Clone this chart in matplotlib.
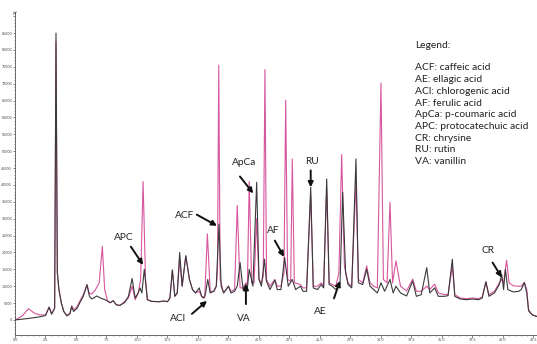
import matplotlib
matplotlib.use("Agg")
import matplotlib.pyplot as plt
from matplotlib.ticker import MultipleLocator, FuncFormatter

# ---------------- data (retention time in min, signal in µV) ----------------
black_t = [0.0, 1.0, 2.0, 2.5, 2.8, 3.0, 3.25, 3.36, 3.47, 3.6, 3.8, 4.0, 4.25, 4.5, 4.65, 4.8,
           5.1, 5.3, 5.6, 5.9, 6.1, 6.3, 6.7, 7.0, 7.5, 7.8, 8.05, 8.3, 8.6, 9.0, 9.3, 9.6,
           9.85, 10.1, 10.25, 10.4, 10.6, 10.85, 11.2, 11.8, 12.2, 12.5, 12.7, 12.9, 13.1,
           13.3, 13.5, 13.7, 14.0, 14.3, 14.55, 14.8, 15.1, 15.3, 15.45, 15.6, 15.8, 16.0,
           16.3, 16.5, 16.72, 16.9, 17.1, 17.5, 17.7, 18.0, 18.22, 18.45, 18.7, 18.93, 19.05,
           19.2, 19.5, 19.81, 20.0, 20.2, 20.45, 20.6, 20.9, 21.3, 21.5, 21.8, 22.1, 22.4,
           22.73, 23.0, 23.4, 23.6, 23.9, 24.24, 24.45, 24.8, 25.1, 25.3, 25.55, 25.75, 26.0,
           26.3, 26.64, 26.86, 27.1, 27.3, 27.6, 27.95, 28.15, 28.5, 28.83, 29.1, 29.4, 29.7,
           30.0, 30.3, 30.74, 31.0, 31.23, 31.6, 32.1, 32.6, 32.9, 33.3, 33.75, 34.0, 34.4,
           34.7, 35.2, 35.5, 35.85, 36.05, 36.5, 37.0, 37.5, 38.0, 38.3, 38.6, 38.85, 39.3,
           39.7, 39.9, 40.05, 40.2, 40.4, 40.85, 41.3, 41.5, 41.75, 41.95, 42.1, 42.4, 42.8]
black_v = [0, 400, 900, 1300, 3800, 1700, 3500, 85000, 14000, 9000, 5000, 2500, 1200, 1800, 4000, 2500,
           3500, 5000, 7000, 10400, 7000, 6200, 7100, 6500, 5800, 5100, 5700, 4500, 4300, 5200, 7000, 12300,
           6500, 8000, 9500, 8000, 15000, 6000, 5500, 5400, 5600, 5400, 6500, 14800, 7000,
           8000, 20000, 10000, 19000, 12000, 9000, 8000, 9500, 7000, 6500, 7500, 12000, 8000,
           8500, 10000, 28400, 10000, 8000, 10000, 8000, 8500, 10000, 17000, 9000, 10500, 9500,
           15000, 10000, 40800, 12000, 10000, 18000, 11600, 9000, 11800, 9000, 9000, 18500, 10000,
           12000, 9000, 10000, 8500, 8500, 39300, 9500, 9000, 10500, 9500, 41800, 10500, 10000,
           9000, 10500, 37800, 14000, 10500, 9500, 47700, 11000, 10500, 15000, 10000, 9000, 8000,
           11000, 8500, 12000, 8000, 10000, 8000, 7100, 11500, 7000, 7500, 15500, 8000, 9500,
           7000, 7000, 7200, 18000, 7000, 6200, 6000, 6200, 6000, 6500, 11300, 7000, 8000,
           10500, 13500, 9000, 15000, 9000, 8300, 8500, 9000, 11100, 8000, 2700, 1500, 1000]

pink_t = [0.0, 0.6, 1.1, 1.6, 2.0, 2.5, 2.8, 3.0, 3.25, 3.36, 3.47, 3.6, 3.8, 4.0, 4.25, 4.5, 4.65,
          4.8, 5.1, 5.3, 5.6, 5.9, 6.1, 6.3, 6.6, 6.9, 7.16, 7.35, 7.6, 7.8, 8.05, 8.3, 8.6, 9.0,
          9.3, 9.6, 9.85, 10.1, 10.3, 10.5, 10.7, 10.85, 11.2, 11.8, 12.2, 12.5, 12.7, 12.9, 13.1,
          13.3, 13.5, 13.7, 14.0, 14.3, 14.55, 14.8, 15.1, 15.3, 15.55, 15.77, 16.0, 16.3, 16.5,
          16.6, 16.7, 16.82, 17.1, 17.5, 17.7, 18.0, 18.22, 18.45, 18.7, 18.93, 19.05, 19.2, 19.4,
          19.6, 19.8, 20.0, 20.2, 20.35, 20.49, 20.62, 20.9, 21.3, 21.5, 21.8, 22.05, 22.19, 22.35,
          22.6, 22.73, 22.9, 23.4, 23.6, 23.9, 24.24, 24.45, 24.8, 25.1, 25.3, 25.55, 25.75, 26.0,
          26.3, 26.55, 26.78, 27.0, 27.3, 27.6, 27.95, 28.15, 28.5, 28.83, 29.1, 29.4, 29.7, 30.0,
          30.2, 30.5, 30.74, 30.95, 31.23, 31.6, 32.1, 32.6, 32.9, 33.3, 33.75, 34.0, 34.4, 34.7,
          35.2, 35.5, 35.85, 36.05, 36.5, 37.0, 37.5, 38.0, 38.3, 38.6, 38.85, 39.3, 39.7, 39.9,
          40.05, 40.3, 40.5, 40.85, 41.3, 41.5, 41.75, 41.95, 42.1, 42.4, 42.8]
pink_v = [0, 1200, 3300, 2000, 1500, 1500, 3800, 1800, 3500, 82500, 14000, 9000, 5000, 2500, 1300, 2000, 4200,
          3000, 4000, 5500, 7500, 10500, 7800, 7700, 9000, 11000, 21800, 9000, 5500, 5100, 5700, 4500, 4300, 5500,
          6500, 10000, 6000, 8000, 12000, 41000, 12000, 6000, 5500, 5400, 5600, 5400, 6500, 14800, 7000,
          8000, 18000, 10000, 19000, 12000, 9000, 8000, 8500, 7000, 6500, 25500, 8500, 8500, 10000,
          15000, 75500, 12000, 8000, 10000, 8500, 9000, 33900, 9500, 9500, 11000, 10500, 41000, 11000,
          11000, 30000, 12000, 11000, 13000, 74200, 12000, 10000, 12000, 10000, 10000, 14000, 65100, 12000,
          11500, 47700, 11000, 10500, 9500, 9500, 37000, 10000, 10000, 11000, 10000, 39000, 11000, 10500,
          10000, 14000, 49000, 16000, 11000, 10000, 41000, 12000, 11000, 16000, 11000, 10000, 9500, 70200,
          12000, 11000, 34900, 11000, 17500, 10000, 8600, 12100, 8500, 8500, 10000, 9000, 10600, 8000,
          7500, 7500, 16000, 7500, 6500, 6300, 6500, 6300, 6800, 11300, 7500, 8500, 11000, 12000,
          11000, 17700, 11000, 10100, 10000, 10000, 11100, 9000, 3000, 1500, 1000]

# peak annotations: label, label position (t, v), arrow tail (t, v), arrow tip (t, v)
ann_labels = ["APC", "ACF", "ACl", "ApCa", "VA", "AF", "RU", "AE", "CR"]
ann_text_t = [8.93, 13.93, 13.36, 18.77, 18.77, 21.15, 24.32, 25.0, 38.8]
ann_text_v = [24300, 30900, 300, 46600, 300, 26400, 47000, 2500, 20500]
ann_tail_t = [9.5, 14.9, 14.5, 18.44, 18.93, 21.3, 24.24, 26.15, 39.15]
ann_tail_v = [21700, 31200, 1800, 42500, 4700, 23500, 44300, 6400, 17000]
ann_tip_t = [10.5, 16.56, 15.74, 19.53, 18.93, 22.05, 24.24, 26.64, 39.9]
ann_tip_v = [16300, 27900, 5650, 37500, 10600, 18700, 39300, 11600, 12600]

legend_title = "Legend:"
legend_lines = ["ACF: caffeic acid", "AE: ellagic acid", "ACl: chlorogenic acid",
                "AF: ferulic acid", "ApCa: p-coumaric acid", "APC: protocatechuic acid",
                "CR: chrysine", "RU: rutin", "VA: vanillin"]

# ---------------- figure ----------------
W, H = 537, 344
fig = plt.figure(figsize=(W / 100, H / 100), dpi=100)
ax = fig.add_axes([15 / W, (H - 335) / H, (W - 15) / W, (335 - 12) / H])

pink = "#d8559f"
dark = "#3a3a3a"
ax.plot(pink_t, pink_v, color=pink, lw=0.8, zorder=2)
ax.plot(black_t, black_v, color=dark, lw=0.8, zorder=3)

ax.set_xlim(0, 42.79)
ax.set_ylim(-4460, 91240)

for s in ("top", "right"):
    ax.spines[s].set_visible(False)
for s in ("left", "bottom"):
    ax.spines[s].set_color("#555555")
    ax.spines[s].set_linewidth(0.6)

ax.xaxis.set_major_locator(MultipleLocator(2.5))
ax.xaxis.set_minor_locator(MultipleLocator(0.5))
ax.yaxis.set_major_locator(MultipleLocator(5000))
ax.yaxis.set_minor_locator(MultipleLocator(1000))
ax.xaxis.set_major_formatter(FuncFormatter(lambda x, p: f"{x:.1f}"))
ax.yaxis.set_major_formatter(FuncFormatter(lambda y, p: f"{int(y)}" if 0 <= y <= 85000 else ""))
ax.tick_params(axis="both", which="major", length=1.8, width=0.5, color="#555555",
               labelsize=2.4, labelcolor="#444444", pad=0.4)
ax.tick_params(axis="both", which="minor", length=1.0, width=0.4, color="#555555")

fig.text(15 / W, 1 - 13 / H, "µV", fontsize=2.6, color="#444444", ha="center", va="center")

font = "Lato"
for lab, tx, tv, at, av, pt, pv in zip(ann_labels, ann_text_t, ann_text_v, ann_tail_t,
                                       ann_tail_v, ann_tip_t, ann_tip_v):
    ax.text(tx, tv, lab, fontsize=7.3, family=font, ha="center", va="center", color="#222222")
    ax.annotate("", xy=(pt, pv), xytext=(at, av),
                arrowprops=dict(arrowstyle="-|>", color="#111111", lw=1.4,
                                mutation_scale=7.5, shrinkA=0, shrinkB=0))

fig.text(415 / W, 1 - 45 / H, legend_title, fontsize=7.4, family=font, va="center", ha="left",
         color="#222222")
for i, line in enumerate(legend_lines):
    fig.text(415 / W, 1 - (68 + 11.7 * i) / H, line, fontsize=7.4, family=font,
             va="center", ha="left", color="#222222")

fig.savefig("out.png", dpi=100)
